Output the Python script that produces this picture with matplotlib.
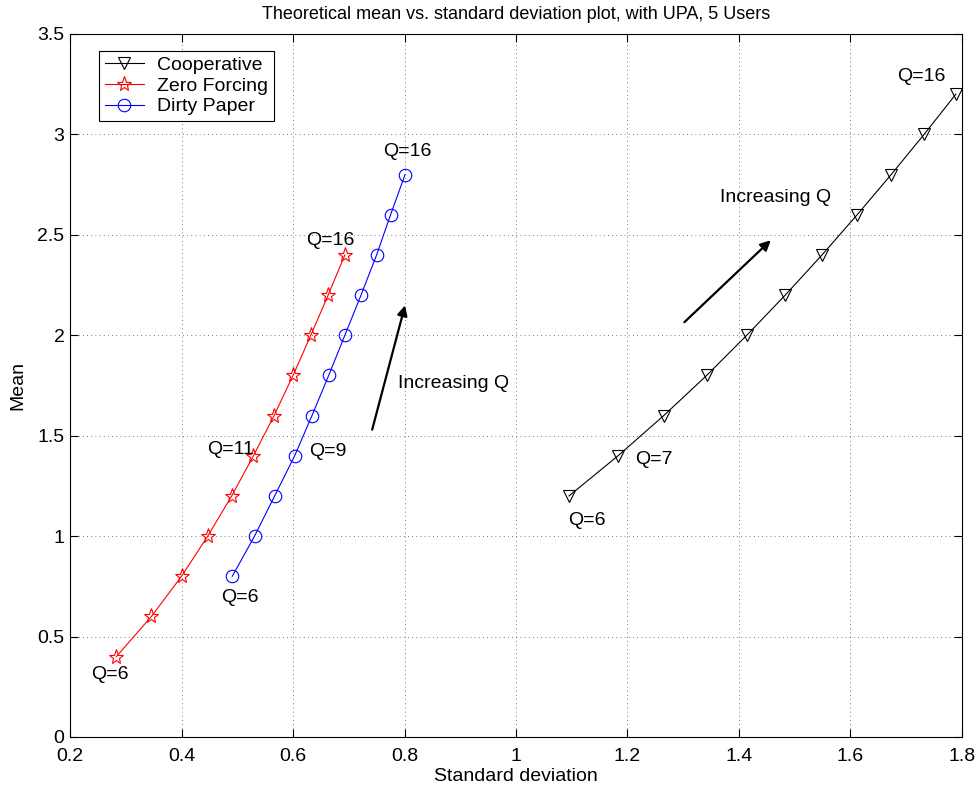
"""Mean vs. standard deviation for cooperative, ZF and DPC schemes (UPA, 5 users)."""

import matplotlib.pyplot as plt

plt.rcParams['font.family'] = ['Liberation Sans', 'DejaVu Sans']

# Values (Q = 6 .. 16)
coop_std = [1.095, 1.183, 1.265, 1.342, 1.414, 1.483, 1.549, 1.612, 1.673, 1.732, 1.789]
coop_mean = [1.2, 1.4, 1.6, 1.8, 2.0, 2.2, 2.4, 2.6, 2.8, 3.0, 3.2]

zf_std = [0.283, 0.346, 0.400, 0.447, 0.490, 0.529, 0.566, 0.600, 0.632, 0.663, 0.693]
zf_mean = [0.4, 0.6, 0.8, 1.0, 1.2, 1.4, 1.6, 1.8, 2.0, 2.2, 2.4]

dp_std = [0.491, 0.531, 0.567, 0.603, 0.634, 0.664, 0.693, 0.722, 0.750, 0.775, 0.801]
dp_mean = [0.8, 1.0, 1.2, 1.4, 1.6, 1.8, 2.0, 2.2, 2.4, 2.6, 2.8]

# Point labels: (text, x, y)
labels = [
    ('Q=16', 1.683, 3.29), ('Q=7', 1.213, 1.38), ('Q=6', 1.093, 1.077),
    ('Q=16', 0.623, 2.473), ('Q=11', 0.446, 1.431), ('Q=6', 0.238, 0.309),
    ('Q=16', 0.761, 2.916), ('Q=9', 0.629, 1.421), ('Q=6', 0.471, 0.693),
]

# Arrows: (tail, head) and the "Increasing Q" text positions
arrows = [((0.742, 1.53), (0.801, 2.149)), ((1.302, 2.065), (1.457, 2.473))]
arrow_texts = [(0.788, 1.76), (1.366, 2.685)]

fig = plt.figure(figsize=(9.78, 7.94), dpi=100)
ax = fig.add_axes([0.0716, 0.0718, 0.912, 0.8854])

ax.plot(coop_std, coop_mean, color='k', lw=0.8, marker='v', ms=9,
        mfc='none', mec='k', mew=0.8, label='Cooperative')
ax.plot(zf_std, zf_mean, color='r', lw=0.8, marker='*', ms=11,
        mfc='none', mec='r', mew=0.8, label='Zero Forcing')
ax.plot(dp_std, dp_mean, color='b', lw=0.8, marker='o', ms=9,
        mfc='none', mec='b', mew=0.8, label='Dirty Paper')

for txt, x, y in labels:
    ax.text(x, y, txt, fontsize=14, ha='left', va='center')

for (tail, head), (tx, ty) in zip(arrows, arrow_texts):
    ax.annotate('', xy=head, xytext=tail,
                arrowprops=dict(arrowstyle='-|>', color='k', lw=1.6,
                                mutation_scale=15, shrinkA=0, shrinkB=0))
    ax.text(tx, ty, 'Increasing Q', fontsize=14, ha='left', va='center')

ax.set_xlim(0.2, 1.8)
ax.set_ylim(0, 3.5)
ax.set_xticks([0.2, 0.4, 0.6, 0.8, 1, 1.2, 1.4, 1.6, 1.8])
ax.set_xticklabels(['0.2', '0.4', '0.6', '0.8', '1', '1.2', '1.4', '1.6', '1.8'])
ax.set_yticks([0, 0.5, 1, 1.5, 2, 2.5, 3, 3.5])
ax.set_yticklabels(['0', '0.5', '1', '1.5', '2', '2.5', '3', '3.5'])
ax.tick_params(direction='in', top=True, right=True, labelsize=14, length=6)
ax.tick_params(axis='x', pad=8)
ax.tick_params(axis='y', pad=4)
ax.grid(True, linestyle=(0, (1, 4)), color='k', lw=0.6, alpha=0.7)

ax.set_xlabel('Standard deviation', fontsize=14, labelpad=2)
ax.set_ylabel('Mean', fontsize=14, labelpad=8)
ax.set_title('Theoretical mean vs. standard deviation plot, with UPA, 5 Users',
             fontsize=13, pad=11)

leg = ax.legend(loc='upper left', bbox_to_anchor=(0.0325, 0.976), fontsize=14,
                fancybox=False, framealpha=1, edgecolor='k', borderaxespad=0,
                handlelength=2.0, handletextpad=0.7, borderpad=0.3,
                labelspacing=0.15)
leg.get_frame().set_linewidth(0.8)

plt.savefig('out.png')
